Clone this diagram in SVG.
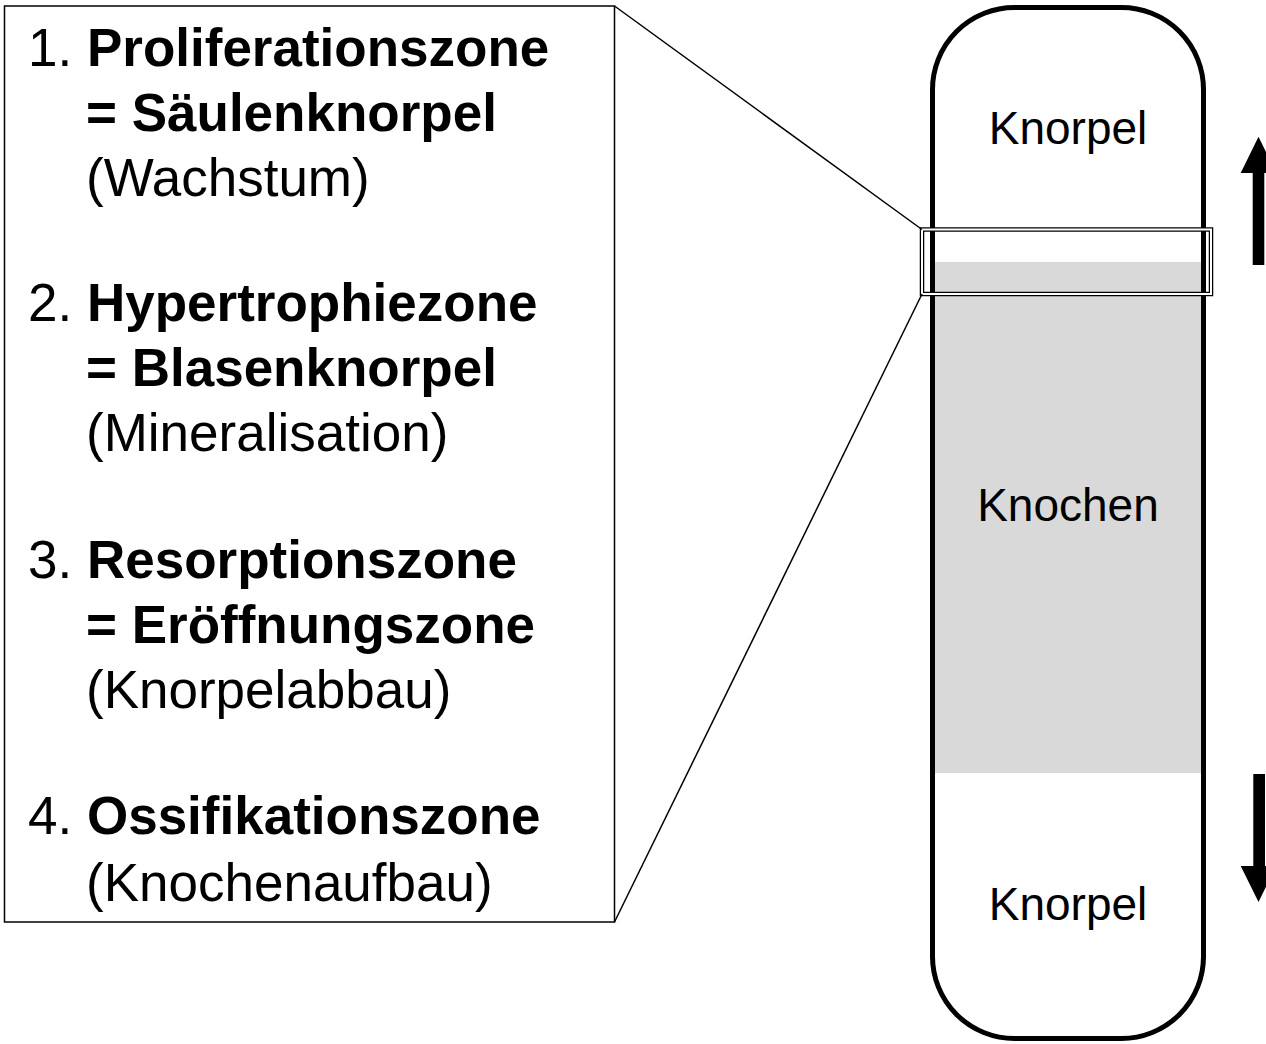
<svg xmlns="http://www.w3.org/2000/svg" width="1266" height="1044" viewBox="0 0 1266 1044">
<style>
.t{font-family:"Liberation Sans",Arial,sans-serif;font-size:53px;fill:#000}
.b{font-weight:bold}
.r{font-family:"Liberation Sans",Arial,sans-serif;font-size:46px;fill:#000;text-anchor:middle}
.thin{fill:none;stroke:#000;stroke-width:1.5}
</style>
<rect width="1266" height="1044" fill="#fff"/>
<g id="capsule">
<rect x="935" y="262" width="266" height="511" fill="#d9d9d9"/>
<rect x="932.5" y="7.5" width="271" height="1031" rx="82" ry="82" fill="none" stroke="#000" stroke-width="5"/>
<text class="r" x="1068" y="144">Knorpel</text>
<text class="r" x="1068" y="521">Knochen</text>
<text class="r" x="1068" y="920">Knorpel</text>
</g>
<g id="zoom-box">
<rect x="922" y="229.5" width="289" height="64.5" fill="none" stroke="#000" stroke-width="4.5"/>
<rect x="922" y="229.5" width="289" height="64.5" fill="none" stroke="#fff" stroke-width="2"/>
</g>
<g id="legend">
<rect x="4.5" y="6" width="610" height="916" class="thin"/>
<text class="t" x="28" y="66">1. <tspan class="b">Proliferationszone</tspan></text>
<text class="t b" x="86" y="131">= Säulenknorpel</text>
<text class="t" x="86" y="196">(Wachstum)</text>
<text class="t" x="28" y="321">2. <tspan class="b">Hypertrophiezone</tspan></text>
<text class="t b" x="86" y="386">= Blasenknorpel</text>
<text class="t" x="86" y="451">(Mineralisation)</text>
<text class="t" x="28" y="578">3. <tspan class="b">Resorptionszone</tspan></text>
<text class="t b" x="86" y="643">= Eröffnungszone</text>
<text class="t" x="86" y="708">(Knorpelabbau)</text>
<text class="t" x="28" y="834">4. <tspan class="b">Ossifikationszone</tspan></text>
<text class="t" x="86" y="901">(Knochenaufbau)</text>
</g>
<g id="connectors">
<line x1="614.5" y1="6" x2="922" y2="229.5" class="thin"/>
<line x1="614.5" y1="922" x2="922" y2="294" class="thin"/>
<polygon points="1252.7,265 1252.7,173 1240.7,173 1258.5,136.7 1276.3,173 1264.3,173 1264.3,265" fill="#000"/>
<polygon points="1253.3,774 1253.3,866 1240.7,866 1258.5,902 1276.3,866 1265,866 1265,774" fill="#000"/>
</g>
</svg>
